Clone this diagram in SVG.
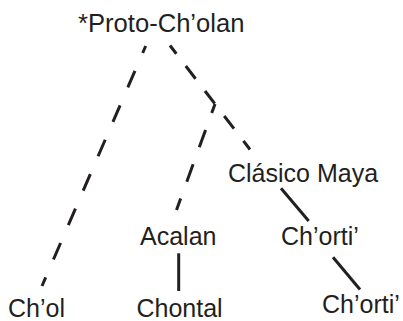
<svg xmlns="http://www.w3.org/2000/svg" width="403" height="321" viewBox="0 0 403 321">
  <style>
    .label { font-family: "Liberation Sans", Arial, sans-serif; font-size: 25px; fill: #231f20; }
    .edge { fill: none; stroke: #231f20; stroke-width: 3; stroke-linecap: butt; }
  </style>
  <rect width="403" height="321" fill="#ffffff"/>

  <!-- connectors -->
  <g id="connectors">
    <line class="edge" x1="145.7" y1="46" x2="42" y2="286" stroke-dasharray="18 19.5" stroke-dashoffset="10.4"/>
    <line class="edge" x1="170" y1="45.5" x2="250" y2="149.5" stroke-dasharray="16 15.5" stroke-dashoffset="5.6"/>
    <line class="edge" x1="215" y1="104" x2="176.5" y2="210" stroke-dasharray="18.5 18" stroke-dashoffset="8.9"/>
    <line class="edge" x1="178.7" y1="253.3" x2="178.7" y2="291"/>
    <line class="edge" x1="281" y1="188.3" x2="308.7" y2="221"/>
    <line class="edge" x1="333" y1="257.3" x2="360" y2="289.5"/>
  </g>

  <g id="proto-cholan"><text class="label" x="78" y="32" style="font-size:25.6px">*Proto-Ch’olan</text></g>
  <g id="clasico-maya"><text class="label" x="228" y="182">Clásico Maya</text></g>
  <g id="acalan"><text class="label" x="140" y="245">Acalan</text></g>
  <g id="chorti-classic"><text class="label" x="281" y="245">Ch’orti’</text></g>
  <g id="chol"><text class="label" x="8" y="316.5">Ch’ol</text></g>
  <g id="chontal"><text class="label" x="136.5" y="316.5">Chontal</text></g>
  <g id="chorti-modern"><text class="label" x="322" y="313">Ch’orti’</text></g>
</svg>
